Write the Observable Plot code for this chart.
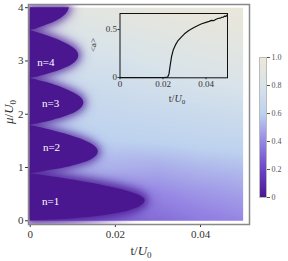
<!DOCTYPE html>
<html><head><meta charset="utf-8">
<script src="https://cdn.jsdelivr.net/npm/d3@7"></script>
<script src="https://cdn.jsdelivr.net/npm/@observablehq/plot@0.6"></script>
<style>
html,body{margin:0;padding:0;background:#fff;}
#wrap{position:relative;width:288px;height:261px;overflow:hidden;font-family:"Liberation Serif",serif;}
#wrap svg{position:absolute;overflow:visible;}
</style></head><body><div id="wrap"></div>
<script>
// ---- data ----
const xTicks = [0, 0.02, 0.04];
const yTicks = [0, 1, 2, 3, 4];
const cbTicks = [0, 0.2, 0.4, 0.6, 0.8, 1.0];
const insetXTicks = [0, 0.02, 0.04];
const insetYTicks = [0, 0.5];

const colorDomain = [0, 0.2, 0.4, 0.6, 0.8, 1.0];
const colorRange = ["#4a1790", "#6b45c6", "#9686e4", "#bdd2ef", "#d8e3ea", "#eee7d7"];

// Mott lobe boundaries (mu/U0, t/U0)
const lobe1Mu = [0, 0.015, 0.04, 0.08, 0.14, 0.22, 0.30, 0.38, 0.47, 0.55, 0.62, 0.70, 0.78, 0.83, 0.86, 0.88];
const lobe1T  = [0, 0.0050, 0.0105, 0.0158, 0.0207, 0.0245, 0.0264, 0.0270, 0.0258, 0.0230, 0.0195, 0.0147, 0.0088, 0.0046, 0.0020, 0];
const lobe2Mu = [0.88, 0.905, 0.93, 0.97, 1.06, 1.15, 1.29, 1.43, 1.52, 1.61, 1.70, 1.745, 1.77, 1.79];
const lobe2T  = [0, 0.0018, 0.0037, 0.0068, 0.0115, 0.0145, 0.0160, 0.0146, 0.0123, 0.0090, 0.0049, 0.0025, 0.0012, 0];
const lobe3Mu = [1.79, 1.81, 1.835, 1.88, 1.97, 2.06, 2.21, 2.33, 2.41, 2.50, 2.59, 2.63, 2.65, 2.67];
const lobe3T  = [0, 0.0013, 0.0027, 0.0051, 0.0088, 0.0112, 0.0126, 0.0117, 0.0100, 0.0074, 0.0041, 0.0021, 0.0011, 0];
const lobe4Mu = [2.67, 2.69, 2.715, 2.76, 2.85, 2.94, 3.10, 3.21, 3.30, 3.39, 3.48, 3.525, 3.55, 3.57];
const lobe4T  = [0, 0.0012, 0.0024, 0.0045, 0.0078, 0.0100, 0.0114, 0.0107, 0.0091, 0.0068, 0.0038, 0.0020, 0.0010, 0];
const lobe5Mu = [3.57, 3.59, 3.615, 3.66, 3.75, 3.84, 3.93, 4.0];
const lobe5T  = [0, 0.0010, 0.0019, 0.0035, 0.0062, 0.0079, 0.0089, 0.0092];

const lobeLabels = ["n=1", "n=2", "n=3", "n=4"];
const lobeLabelT = [0.0048, 0.0050, 0.0048, 0.0037];
const lobeLabelMu = [0.36, 1.37, 2.20, 2.97];

// order-parameter field outside lobes (sampled)
const fieldT = [0, 0.01, 0.02, 0.03, 0.04, 0.05];
const fieldMu = [0, 0.5, 1, 1.5, 2, 2.5, 3, 3.5, 4];
const fieldV = [
  [0.30, 0.30, 0.30, 0.32, 0.37, 0.40],
  [0.44, 0.44, 0.43, 0.40, 0.44, 0.47],
  [0.55, 0.54, 0.51, 0.50, 0.53, 0.55],
  [0.60, 0.60, 0.60, 0.61, 0.63, 0.64],
  [0.65, 0.65, 0.66, 0.68, 0.70, 0.72],
  [0.71, 0.71, 0.72, 0.75, 0.78, 0.80],
  [0.77, 0.77, 0.78, 0.82, 0.85, 0.87],
  [0.83, 0.83, 0.85, 0.88, 0.90, 0.92],
  [0.88, 0.90, 0.92, 0.94, 0.96, 0.97]
];

// inset curve <a> vs t/U0
const insetT = [0, 0.0205, 0.0222, 0.0228, 0.0233, 0.0240, 0.0248, 0.0258, 0.0270, 0.0285, 0.0300, 0.0320, 0.0340, 0.0360, 0.0380, 0.0400, 0.0415, 0.0425, 0.0435, 0.0445, 0.0455, 0.0465, 0.0472, 0.0480, 0.0487, 0.0493, 0.0500];
const insetA = [0, 0, 0.005, 0.04, 0.12, 0.22, 0.29, 0.34, 0.385, 0.42, 0.455, 0.49, 0.515, 0.54, 0.56, 0.575, 0.585, 0.595, 0.592, 0.605, 0.615, 0.618, 0.626, 0.628, 0.64, 0.636, 0.655];

// ---- build tables ----
const lobes = [[lobe1Mu, lobe1T], [lobe2Mu, lobe2T], [lobe3Mu, lobe3T], [lobe4Mu, lobe4T], [lobe5Mu, lobe5T]]
  .map(([m, t]) => m.map((mu, i) => ({mu, t: t[i]})));
const field = [];
fieldMu.forEach((mu, i) => fieldT.forEach((t, j) => field.push({t, mu, v: fieldV[i][j]})));
const labels = lobeLabels.map((label, i) => ({label, t: lobeLabelT[i], mu: lobeLabelMu[i]}));
const curve = insetT.map((t, i) => ({t, a: insetA[i]}));
const lobeColor = colorRange[0];
const colorScale = {type: "linear", domain: colorDomain, range: colorRange, interpolate: "rgb"};
const font = "Liberation Serif, Times New Roman, serif";

const wrap = document.getElementById("wrap");

// ---- main plot ----
const main = Plot.plot({
  width: 288, height: 261,
  marginLeft: 28, marginRight: 39, marginTop: 4, marginBottom: 37,
  style: {fontFamily: font, fontSize: "11px", color: "#333", background: "transparent"},
  x: {domain: [-0.0004, 0.0515], ticks: xTicks, tickFormat: d => String(d), label: null, tickSize: 3, tickPadding: 3},
  y: {domain: [-0.07, 4.06], ticks: yTicks, tickFormat: d => String(d), label: null, tickSize: 3, tickPadding: 2},
  color: colorScale,
  marks: [
    Plot.raster(field, {x: "t", y: "mu", fill: "v", interpolate: "barycentric", x1: 0, x2: 0.05, y1: 0, y2: 4}),
    ...lobes.map(l => Plot.areaX(l, {y: "mu", x1: 0, x2: "t", fill: "#6b45c6", stroke: "#6b45c6", strokeWidth: 10, opacity: 0.35, curve: "monotone-y", imageFilter: "blur(6px)", clip: true})),
    Plot.areaX(lobes[0], {y: "mu", x1: 0, x2: "t", fill: lobeColor, stroke: lobeColor, strokeWidth: 8, opacity: 0.45, curve: "monotone-y", imageFilter: "blur(6px)", clip: true}),
    ...lobes.map(l => Plot.areaX(l, {y: "mu", x1: 0, x2: "t", fill: lobeColor, stroke: lobeColor, strokeWidth: 5, opacity: 0.65, curve: "monotone-y", imageFilter: "blur(3.5px)", clip: true})),
    ...lobes.map(l => Plot.areaX(l, {y: "mu", x1: 0, x2: "t", fill: lobeColor, curve: "monotone-y"})),
    Plot.text(labels, {x: "t", y: "mu", text: "label", fill: "white", fontSize: 11, fontFamily: font}),
    Plot.frame({stroke: "#888", strokeWidth: 1.5})
  ]
});
main.style.left = "0px"; main.style.top = "0px";
wrap.appendChild(main);
{
  const s = d3.select(main);
  const xl = s.append("text").attr("x", 141).attr("y", 255).attr("text-anchor", "middle")
    .attr("font-family", font).attr("font-size", 13).attr("fill", "#333");
  xl.append("tspan").text("t/");
  xl.append("tspan").attr("font-style", "italic").text("U");
  xl.append("tspan").attr("font-size", 9).attr("dy", 3).text("0");
  const yl = s.append("text").attr("transform", "translate(13,112) rotate(-90)").attr("text-anchor", "middle")
    .attr("font-family", font).attr("font-size", 13).attr("fill", "#333");
  yl.append("tspan").attr("font-style", "italic").text("μ");
  yl.append("tspan").text("/");
  yl.append("tspan").attr("font-style", "italic").text("U");
  yl.append("tspan").attr("font-size", 9).attr("dy", 3).text("0");
}

// ---- inset ----
const inset = Plot.plot({
  width: 150, height: 100,
  marginLeft: 34.5, marginRight: 8, marginTop: 8, marginBottom: 27.7,
  style: {fontFamily: font, fontSize: "9px", color: "#333", background: "transparent"},
  x: {domain: [0, 0.05], ticks: insetXTicks, tickFormat: d => String(d), label: null, tickSize: 2, tickPadding: 1},
  y: {domain: [-0.003, 0.667], ticks: insetYTicks, tickFormat: d => String(d), label: null, tickSize: 2, tickPadding: 1},
  marks: [
    Plot.line(curve, {x: "t", y: "a", stroke: "#111", strokeWidth: 1.2}),
    Plot.frame({stroke: "#111", strokeWidth: 1})
  ]
});
inset.style.left = "85px"; inset.style.top = "5px";
wrap.appendChild(inset);
{
  const s = d3.select(inset);
  s.append("text").attr("transform", "translate(11,40) rotate(-90)").attr("text-anchor", "middle")
    .attr("font-family", font).attr("font-size", 9).attr("fill", "#333").text("<a>");
  const xl = s.append("text").attr("x", 92).attr("y", 97).attr("text-anchor", "middle")
    .attr("font-family", font).attr("font-size", 10).attr("fill", "#333");
  xl.append("tspan").text("t/");
  xl.append("tspan").attr("font-style", "italic").text("U");
  xl.append("tspan").attr("font-size", 7).attr("dy", 2).text("0");
}

// ---- colorbar ----
const cb = Plot.plot({
  width: 38, height: 160,
  marginLeft: 9, marginRight: 22, marginTop: 7, marginBottom: 13,
  style: {fontFamily: font, fontSize: "8px", color: "#555", background: "transparent"},
  x: {domain: [0, 1], axis: null},
  y: {domain: [0, 1], axis: "right", ticks: cbTicks, tickFormat: d => d === 0 ? "0" : d.toFixed(1), label: null, tickSize: 3, tickPadding: 2},
  color: colorScale,
  marks: [
    Plot.raster({fill: (x, y) => y, x1: 0, x2: 1, y1: 0, y2: 1}),
    Plot.frame({stroke: "#bbb", strokeWidth: 1})
  ]
});
cb.style.left = "250px"; cb.style.top = "50px";
wrap.appendChild(cb);
</script>
</body></html>
